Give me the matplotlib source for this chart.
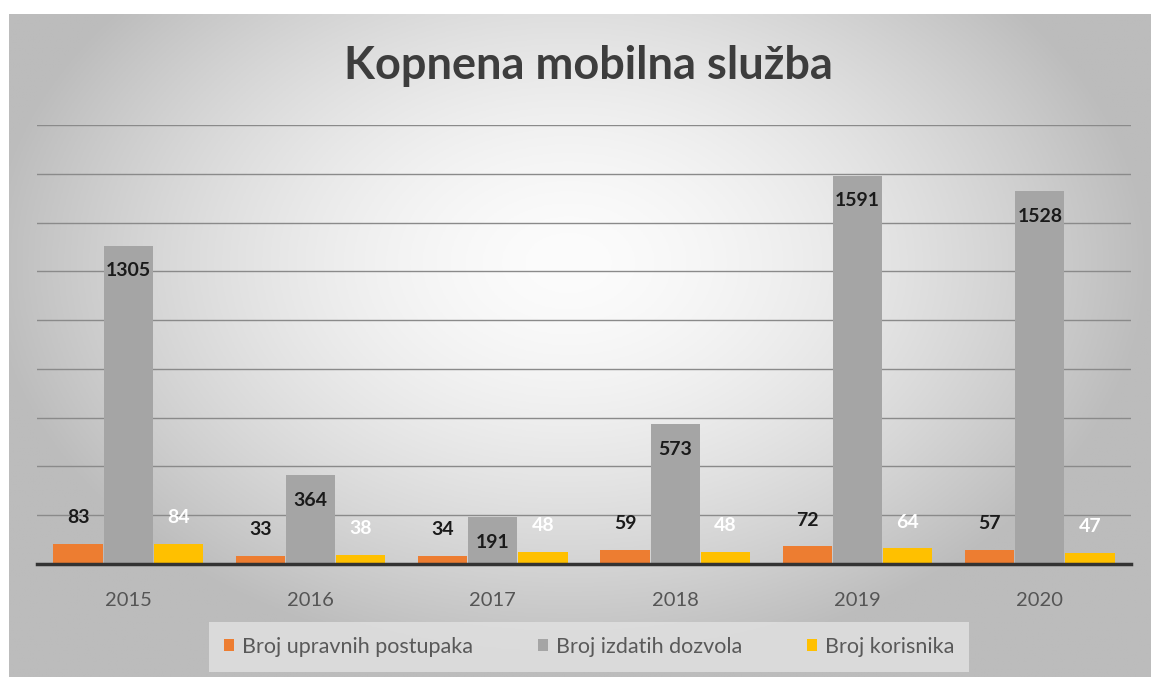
import numpy as np
import matplotlib.pyplot as plt
from matplotlib.patches import Patch

godine = ['2015', '2016', '2017', '2018', '2019', '2020']
postupci = [83, 33, 34, 59, 72, 57]
dozvole = [1305, 364, 191, 573, 1591, 1528]
korisnici = [84, 38, 48, 48, 64, 47]
nazivi = ['Broj upravnih postupaka', 'Broj izdatih dozvola', 'Broj korisnika']
boje = ['#ED7D31', '#A5A5A5', '#FFC000']

plt.rcParams['font.family'] = ['Lato', 'DejaVu Sans']

W, H = 1151, 677
fig = plt.figure(figsize=(W / 100, H / 100), dpi=100)
fig.patch.set_facecolor('white')

# pozadina sa radijalnim gradijentom
bg = fig.add_axes([9 / W, 0, 1 - 9 / W, (H - 14) / H])
bg.set_axis_off()
xx, yy = np.meshgrid(np.linspace(-1, 1, 400), np.linspace(-1, 1, 240))
r = np.sqrt(((xx + 0.02) / 1.0) ** 2 + ((yy - 0.25) / 1.2) ** 2)
v = np.clip(252 - 62 * r ** 1.6, 188, 252) / 255
bg.imshow(np.dstack([v, v, v]), extent=[0, 1, 0, 1], aspect='auto', origin='lower')
bg.set_xlim(0, 1)
bg.set_ylim(0, 1)

ax = fig.add_axes([37 / W, (H - 564) / H, (1131 - 37) / W, (564 - 125) / H])
ax.patch.set_alpha(0)

x = np.arange(len(godine))
w = 0.27
serije = [postupci, dozvole, korisnici]
for i, (vals, c) in enumerate(zip(serije, boje)):
    ax.bar(x + (i - 1) * 0.275, vals, w, color=c, zorder=3, label=nazivi[i])

for i in range(len(godine)):
    ax.annotate(str(postupci[i]), (x[i] - 0.275, postupci[i]), xytext=(0, 19),
                textcoords='offset points', ha='center', va='center',
                fontsize=14, fontweight='bold', color='#1a1a1a', zorder=5)
    ax.annotate(str(dozvole[i]), (x[i], dozvole[i]), xytext=(0, -18),
                textcoords='offset points', ha='center', va='center',
                fontsize=14, fontweight='bold', color='#1a1a1a', zorder=5)
    ax.annotate(str(korisnici[i]), (x[i] + 0.275, korisnici[i]), xytext=(0, 19),
                textcoords='offset points', ha='center', va='center',
                fontsize=14, fontweight='bold', color='white', zorder=5)

ax.set_xlim(-0.5, len(godine) - 0.5)
ax.set_ylim(0, 1800)
ax.set_yticks(np.arange(200, 1801, 200))
ax.yaxis.grid(True, color='#8a8a8a', linewidth=1, zorder=1)
ax.tick_params(axis='y', left=False, labelleft=False)
ax.set_xticks(x)
ax.set_xticklabels(godine, fontsize=14.5, color='#555555')
ax.tick_params(axis='x', length=0, pad=20)
for s in ['top', 'right', 'left']:
    ax.spines[s].set_visible(False)
ax.spines['bottom'].set_color('#333333')
ax.spines['bottom'].set_linewidth(2.5)
ax.spines['bottom'].set_zorder(4)

fig.text(588 / W, (H - 66) / H, 'Kopnena mobilna služba', ha='center', va='center',
         fontsize=32.5, fontweight='bold', color='#3d3d3d')

rucke = [Patch(facecolor=c, label=n) for c, n in zip(boje, nazivi)]
leg = fig.legend(handles=rucke, loc='center', bbox_to_anchor=(589 / W, (H - 647) / H),
                 ncol=3, frameon=True, fontsize=15.5, handlelength=0.5, handleheight=0.5,
                 handletextpad=0.35, columnspacing=3.0, borderpad=0.7, fancybox=False)
leg.get_frame().set_facecolor('#e2e2e2')
leg.get_frame().set_edgecolor('none')
for t in leg.get_texts():
    t.set_color('#595959')

fig.savefig('out.png', dpi=100)
